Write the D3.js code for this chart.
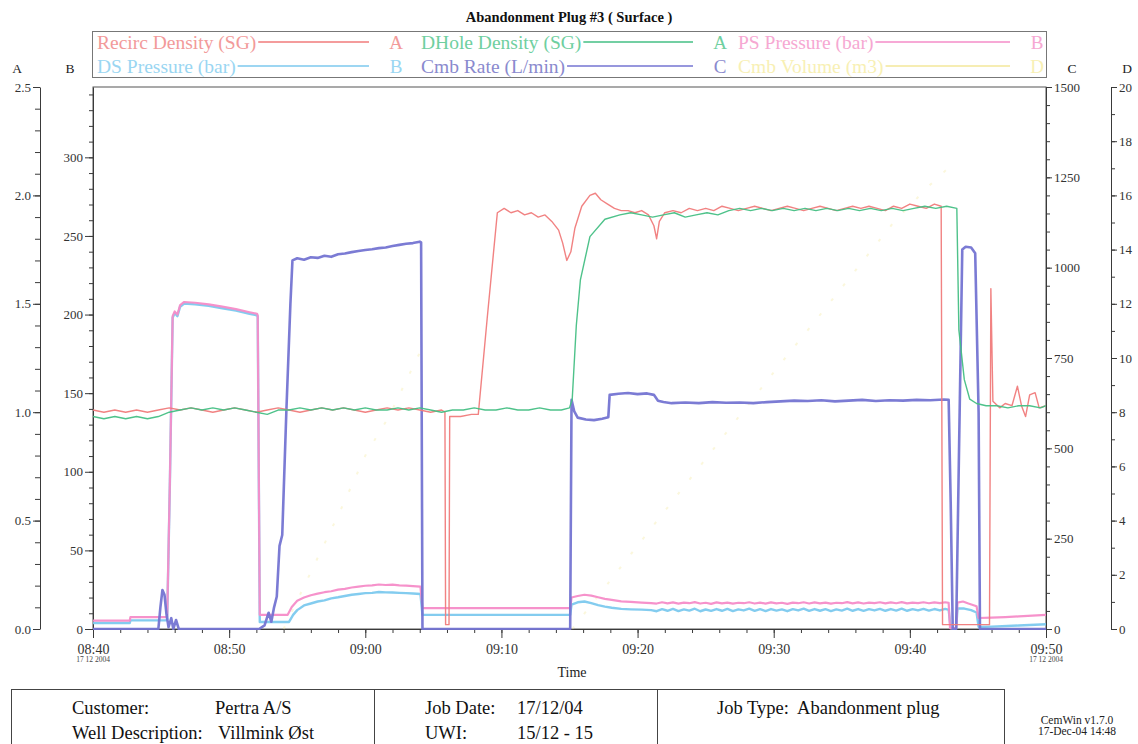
<!DOCTYPE html>
<html>
<head>
<meta charset="utf-8">
<script src="https://cdn.jsdelivr.net/npm/d3@7"></script>
<style>
  html, body { margin: 0; padding: 0; background: #fff; }
  svg { display: block; }
  svg text { font-family: "Liberation Serif", "Times New Roman", serif; }
</style>
</head>
<body>
<svg id="chart" width="1138" height="744"></svg>
<script>
// ---- Logged job data: [minutes after 08:40, value] ----
const recircDensity = [
  [0,1.01],[0.8,1.00],[1.6,1.01],[2.4,1.00],[3.2,1.01],[4.0,1.00],[4.8,1.01],[5.6,1.02],[6.4,1.01],[7.2,1.02],
  [8.0,1.01],[8.8,1.00],[9.6,1.01],[10.4,1.02],[11.2,1.01],[12.0,1.00],[12.8,1.01],[13.6,1.02],[14.4,1.01],
  [15.2,1.00],[16.0,1.01],[16.8,1.02],[17.6,1.01],[18.4,1.02],[19.2,1.01],[20.0,1.00],[20.8,1.01],[21.6,1.02],
  [22.4,1.01],[23.2,1.02],[24.0,1.01],[24.8,1.00],[25.6,1.01],[25.85,1.00],[25.9,0.02],[26.15,0.02],[26.2,0.98],
  [27.0,0.98],[27.8,0.99],[28.3,0.99],[28.95,1.43],[29.7,1.92],[30.2,1.94],[30.7,1.92],[31.2,1.93],[31.7,1.91],
  [32.2,1.92],[32.7,1.90],[33.2,1.91],[33.7,1.88],[34.2,1.84],[34.5,1.78],[34.8,1.70],[35.1,1.74],[35.4,1.85],
  [35.9,1.95],[36.5,2.00],[36.9,2.01],[37.3,1.98],[37.8,1.96],[38.3,1.94],[38.8,1.93],[39.3,1.93],[39.8,1.92],
  [40.3,1.93],[40.8,1.91],[41.2,1.86],[41.4,1.80],[41.6,1.88],[42.0,1.92],[42.6,1.93],[43.2,1.92],[43.8,1.94],
  [44.4,1.93],[45.0,1.94],[45.6,1.93],[46.2,1.95],[46.8,1.94],[47.4,1.93],[48.0,1.94],[48.6,1.95],[49.2,1.94],
  [49.8,1.93],[50.4,1.94],[51.0,1.95],[51.6,1.94],[52.2,1.93],[52.8,1.94],[53.4,1.95],[54.0,1.94],[54.6,1.93],
  [55.2,1.94],[55.8,1.95],[56.4,1.94],[57.0,1.95],[57.6,1.94],[58.2,1.93],[58.8,1.95],[59.4,1.94],[60.0,1.96],
  [60.6,1.95],[61.2,1.94],[61.8,1.96],[62.3,1.95],[62.4,0.02],[65.85,0.02],[65.95,1.57],[66.1,1.05],[66.6,1.02],
  [67.0,1.04],[67.5,1.03],[67.9,1.12],[68.2,1.03],[68.5,0.98],[68.8,1.08],[69.2,1.09],[69.5,1.02],[70,1.03]
];

const dholeDensity = [
  [0,0.98],[0.8,0.97],[1.6,0.98],[2.4,0.97],[3.2,0.98],[4.0,0.97],[4.8,0.98],[5.6,1.00],[6.4,1.01],[7.2,1.02],
  [8.0,1.01],[8.8,1.02],[9.6,1.01],[10.4,1.02],[11.2,1.01],[12.0,1.00],[12.8,0.99],[13.6,1.01],[14.4,1.01],
  [15.2,1.02],[16.0,1.01],[16.8,1.02],[17.6,1.01],[18.4,1.02],[19.2,1.01],[20.0,1.02],[20.8,1.01],[21.6,1.01],
  [22.4,1.02],[23.2,1.01],[24.0,1.02],[24.8,1.01],[25.6,1.00],[26.4,1.01],[27.2,1.01],[28.0,1.02],[28.8,1.01],
  [29.6,1.01],[30.4,1.02],[31.2,1.01],[32.0,1.01],[32.8,1.02],[33.6,1.01],[34.4,1.01],[35.0,1.02],[35.2,1.06],
  [35.5,1.40],[35.8,1.61],[36.5,1.81],[37.6,1.89],[38.7,1.91],[39.5,1.92],[40.3,1.91],[41.1,1.90],[41.9,1.91],
  [42.7,1.92],[43.5,1.90],[44.3,1.91],[45.1,1.92],[45.9,1.91],[46.7,1.93],[47.5,1.94],[48.3,1.93],[49.1,1.94],
  [49.9,1.93],[50.7,1.94],[51.5,1.93],[52.3,1.94],[53.1,1.93],[53.9,1.94],[54.7,1.93],[55.5,1.94],[56.3,1.93],
  [57.1,1.94],[57.9,1.93],[58.7,1.94],[59.5,1.93],[60.3,1.94],[61.1,1.95],[61.9,1.94],[62.7,1.95],[63.45,1.94],
  [63.6,1.38],[64.0,1.15],[64.4,1.06],[64.9,1.04],[65.6,1.03],[66.4,1.03],[67.2,1.02],[68.0,1.03],[68.8,1.03],
  [69.6,1.02],[70,1.03]
];

const psPressure = [
  [0,5.3],[2.7,5.3],[2.75,7.6],[5.35,7.6],[5.45,8],[5.65,95],[5.85,199],[6.0,202],[6.2,200],[6.4,206],[6.7,208],
  [7.5,207.5],[8.5,206.5],[9.5,205],[10.5,203.5],[11.5,201.5],[12.05,200.5],[12.1,199.5],[12.25,9],[14.3,9],
  [14.6,14],[15.0,18],[15.5,20],[16.0,21.5],[16.5,22.5],[17.0,23.4],[17.5,24],[18.0,25],[18.5,25.5],[19.0,26.4],
  [19.5,27],[20.0,27.5],[20.5,27.8],[21.0,28.3],[21.5,28],[22.0,28.2],[22.5,27.8],[23.0,27.6],[23.5,27.3],
  [24.05,27],[24.2,13.3],[35.05,13.3],[35.15,20],[35.6,21],[36.1,21.8],[36.6,21.2],[37.1,20.2],[37.6,19.2],
  [38.1,18.5],[38.8,17.6],[39.5,17.2],[40.3,16.8],[41.0,16.5],[41.4,16.2],[41.8,17.0],[42.2,16.3],[42.6,16.9],
  [43.0,16.1],[43.4,16.8],[43.8,16.4],[44.2,17.1],[44.6,16.2],[45.0,16.7],[45.4,16.0],[45.8,16.9],[46.2,16.3],
  [46.6,16.8],[47.0,16.1],[47.4,16.7],[47.8,16.4],[48.2,17.0],[48.6,16.2],[49.0,16.8],[49.4,16.1],[49.8,16.9],
  [50.2,16.3],[50.6,16.7],[51.0,16.0],[51.4,16.8],[51.8,16.4],[52.2,17.0],[52.6,16.2],[53.0,16.9],[53.4,16.3],
  [53.8,16.8],[54.2,16.1],[54.6,16.7],[55.0,16.4],[55.4,17.1],[55.8,16.3],[56.2,16.9],[56.6,16.2],[57.0,16.8],
  [57.4,16.5],[57.8,17.0],[58.2,16.3],[58.6,16.9],[59.0,16.4],[59.4,17.1],[59.8,16.3],[60.2,16.8],[60.6,16.5],
  [61.0,17.0],[61.4,16.4],[61.8,16.9],[62.2,16.5],[62.6,17.0],[62.85,16.6],[62.95,0.5],[63.4,0.5],[63.5,16.8],
  [63.9,17.5],[64.3,16.2],[64.9,14.5],[65.05,7],[66,7.2],[67,7.6],[68,8.0],[69,8.5],[70,9]
];

const dsPressure = [
  [0,3.8],[2.7,3.8],[2.75,5.5],[5.35,5.5],[5.45,6],[5.65,94],[5.85,198],[6.0,201],[6.2,199],[6.4,205],[6.7,207],
  [7.5,206.5],[8.5,205.5],[9.5,204],[10.5,202.5],[11.5,200.5],[12.05,199.5],[12.1,198.5],[12.25,4.5],[14.4,4.5],
  [14.7,9],[15.0,12],[15.5,15],[16.0,16.2],[16.5,17.5],[17.0,18.2],[17.5,19.5],[18.0,20.2],[18.5,21],[19.0,21.8],
  [19.5,22.3],[20.0,22.8],[20.5,23],[21.0,23.5],[21.5,23.3],[22.0,23.2],[22.5,23],[23.0,22.8],[23.5,22.6],
  [24.05,22.3],[24.2,9],[35.05,9],[35.15,15.5],[35.6,17],[36.1,17.5],[36.6,16.5],[37.1,15.2],[37.6,14.2],
  [38.1,13.5],[38.8,12.8],[39.5,12.5],[40.3,12.3],[41.0,12.0],[41.4,11.3],[41.8,12.6],[42.2,11.6],[42.6,12.8],
  [43.0,11.4],[43.4,12.5],[43.8,11.7],[44.2,12.9],[44.6,11.3],[45.0,12.4],[45.4,11.5],[45.8,12.7],[46.2,11.6],
  [46.6,12.8],[47.0,11.4],[47.4,12.5],[47.8,11.8],[48.2,12.9],[48.6,11.5],[49.0,12.6],[49.4,11.4],[49.8,12.7],
  [50.2,11.7],[50.6,12.5],[51.0,11.3],[51.4,12.6],[51.8,11.8],[52.2,12.9],[52.6,11.5],[53.0,12.7],[53.4,11.6],
  [53.8,12.6],[54.2,11.4],[54.6,12.5],[55.0,11.7],[55.4,12.9],[55.8,11.6],[56.2,12.7],[56.6,11.5],[57.0,12.6],
  [57.4,11.8],[57.8,12.8],[58.2,11.6],[58.6,12.7],[59.0,11.7],[59.4,12.9],[59.8,11.6],[60.2,12.6],[60.6,11.8],
  [61.0,12.8],[61.4,11.7],[61.8,12.7],[62.2,11.8],[62.6,12.8],[62.85,12.2],[63.0,0.5],[63.4,0.5],[63.5,13],
  [64.0,13],[64.5,12],[64.9,10.5],[65.05,1.3],[66,1.5],[68,2.2],[70,3]
];

const cmbRate = [
  [0,0],[4.8,0],[4.95,60],[5.1,108],[5.25,95],[5.4,40],[5.55,5],[5.75,30],[5.9,0],[6.1,25],[6.3,0],[12.2,0],
  [12.6,10],[12.9,45],[13.1,20],[13.3,60],[13.5,90],[13.7,230],[13.9,260],[14.2,600],[14.5,900],[14.65,1020],
  [15.0,1026],[15.5,1022],[16.0,1029],[16.5,1027],[17.0,1033],[17.5,1030],[18.0,1037],[18.5,1039],[19.0,1043],
  [19.5,1046],[20.0,1049],[20.5,1051],[21.0,1054],[21.5,1056],[22.0,1060],[22.5,1063],[23.0,1066],[23.5,1068],
  [24.0,1072],[24.1,1070],[24.2,0],[35.05,0],[35.15,634],[35.35,602],[35.6,585],[36.2,580],[36.8,578],
  [37.4,582],[37.85,586],[37.95,648],[38.6,651],[39.3,653],[40.0,650],[40.7,652],[41.2,648],[41.5,632],
  [41.9,628],[42.5,625],[43.5,627],[44.5,625],[45.5,628],[46.5,626],[47.5,627],[48.5,625],[49.5,628],
  [50.5,630],[51.5,632],[52.5,631],[53.5,633],[54.5,630],[55.5,632],[56.5,634],[57.5,631],[58.5,633],
  [59.5,632],[60.5,634],[61.5,633],[62.5,635],[62.85,634],[63.0,350],[63.15,0],[63.4,0],[63.85,1050],
  [64.1,1058],[64.5,1056],[64.8,1040],[65.05,600],[65.15,0],[70,0]
];

const cmbVolume = [
  [14.0,0],[18.1,4.3],[20.1,6.5],[21.7,7.8],[24.1,10.3],
  [35.2,0],[39.1,2.5],[50.2,9.6],[53.1,11.4],[58.8,15.0],[61.3,16.3],[62.8,17.0]
];

// ---- Series styling / legend layout ----
const seriesNames  = ["Recirc Density (SG)", "DHole Density (SG)", "PS Pressure (bar)",
                      "DS Pressure (bar)", "Cmb Rate (L/min)", "Cmb Volume (m3)"];
const seriesAxis   = ["A", "A", "B", "B", "C", "D"];
const seriesColors = ["#f07b7b", "#45bf84", "#f58cc8", "#7cc9ee", "#7474d2", "#f3e79a"];
const legendText   = ["#f29a9a", "#6fcfa0", "#f6a8d2", "#9ad6f2", "#8a8ace", "#f8f0b4"];
const seriesData   = [recircDensity, dholeDensity, psPressure, dsPressure, cmbRate, cmbVolume];
const seriesWidth  = [1.4, 1.4, 2.2, 2.4, 2.6, 1.2];

// ---- Axis tick values ----
const ticksA = [0, 0.5, 1.0, 1.5, 2.0, 2.5];
const ticksB = [0, 50, 100, 150, 200, 250, 300];
const ticksC = [0, 250, 500, 750, 1000, 1250, 1500];
const ticksD = [0, 2, 4, 6, 8, 10, 12, 14, 16, 18, 20];

const footerLeft  = [["Customer:", "Pertra A/S"], ["Well Description:", "Villmink Øst"]];
const footerMid   = [["Job Date:", "17/12/04"], ["UWI:", "15/12 - 15"]];
const footerRight = "Job Type:  Abandonment plug";
const stamp = ["CemWin v1.7.0", "17-Dec-04 14:48"];

const SERIF = "'Liberation Serif', 'Times New Roman', serif";

// ---- Scales ----
const t0 = new Date(2004, 11, 17, 8, 40);
const t1 = new Date(2004, 11, 17, 9, 50);
const toDate = m => new Date(t0.getTime() + m * 60000);

const L = 93, R = 1046, T = 87, B = 629;
const x  = d3.scaleTime().domain([t0, t1]).range([L, R]);
const yA = d3.scaleLinear().domain([0, 2.5]).range([B, T]);
const yB = d3.scaleLinear().domain([0, 344.74]).range([B, T]);
const yC = d3.scaleLinear().domain([0, 1500]).range([B, T]);
const yD = d3.scaleLinear().domain([0, 20]).range([B, T]);
const yScales = { A: yA, B: yB, C: yC, D: yD };

const svg = d3.select("#chart");
const axisColor = "#3a3a3a";

// Title
svg.append("text").attr("x", 569).attr("y", 22).attr("text-anchor", "middle")
  .attr("font-family", SERIF).attr("font-size", 14.5).attr("font-weight", "bold").attr("fill", "#111")
  .text("Abandonment Plug #3 ( Surface )");

// Legend box
svg.append("rect").attr("x", 92.5).attr("y", 31.5).attr("width", 954).attr("height", 46)
  .attr("fill", "none").attr("stroke", "#777").attr("stroke-width", 1);

const legendCols = [97, 421, 738];
const legendRowsY = [42, 66];
seriesNames.forEach((name, i) => {
  const col = i % 3, row = Math.floor(i / 3);
  const gx = legendCols[col], gy = legendRowsY[row];
  const g = svg.append("g");
  const t = g.append("text").attr("x", gx).attr("y", gy).attr("dy", "0.35em")
    .attr("font-family", SERIF).attr("font-size", 19.5).attr("fill", legendText[i]).text(name);
  const tw = t.node().getComputedTextLength();
  g.append("line").attr("x1", gx + tw + 2).attr("x2", gx + 272)
    .attr("y1", gy).attr("y2", gy).attr("stroke", seriesColors[i]).attr("stroke-width", 1.4);
  g.append("text").attr("x", gx + 299).attr("y", gy).attr("dy", "0.35em")
    .attr("text-anchor", "middle").attr("font-family", SERIF).attr("font-size", 19)
    .attr("fill", legendText[i]).text(seriesAxis[i]);
});

// Plot frame
svg.append("rect").attr("x", L).attr("y", T).attr("width", R - L).attr("height", B - T)
  .attr("fill", "none").attr("stroke", "#555").attr("stroke-width", 1);

// Clip for series
svg.append("defs").append("clipPath").attr("id", "plotClip")
  .append("rect").attr("x", L).attr("y", T - 1).attr("width", R - L).attr("height", B - T + 2);

// Axes helpers
function styleAxis(g, fontSize) {
  g.attr("font-family", SERIF);
  g.selectAll("path.domain").attr("stroke", axisColor);
  g.selectAll(".tick line").attr("stroke", axisColor);
  g.selectAll(".tick text").attr("fill", "#333").attr("font-size", fontSize).attr("font-family", SERIF);
}
function minorTicks(lo, hi, step) {
  const out = [];
  for (let v = lo; v <= hi + 1e-9; v += step) out.push(+v.toFixed(4));
  return out;
}
function minorAxis(axis, tx, ty) {
  svg.append("g").attr("transform", `translate(${tx},${ty})`).call(axis)
    .call(g => { g.select("path.domain").remove(); g.selectAll("line").attr("stroke", axisColor); });
}

// Axis A
const gA = svg.append("g").attr("transform", "translate(40,0)");
gA.call(d3.axisLeft(yA).tickValues(ticksA).tickFormat(d3.format(".1f")).tickSize(7).tickSizeOuter(0).tickPadding(2));
styleAxis(gA, 13);
minorAxis(d3.axisLeft(yA).tickValues(minorTicks(0, 2.5, 0.1)).tickFormat("").tickSize(5).tickSizeOuter(0), 40, 0);

// Axis B
const gB = svg.append("g").attr("transform", `translate(${L},0)`);
gB.call(d3.axisLeft(yB).tickValues(ticksB).tickFormat(d3.format("d")).tickSize(8).tickSizeOuter(0).tickPadding(2));
styleAxis(gB, 13);
minorAxis(d3.axisLeft(yB).tickValues(minorTicks(0, 340, 10)).tickFormat("").tickSize(4).tickSizeOuter(0), L, 0);

// Axis C
const gC = svg.append("g").attr("transform", `translate(${R},0)`);
gC.call(d3.axisRight(yC).tickValues(ticksC).tickFormat(d3.format("d")).tickSize(6).tickSizeOuter(0).tickPadding(2));
styleAxis(gC, 13);
minorAxis(d3.axisRight(yC).tickValues(minorTicks(0, 1500, 50)).tickFormat("").tickSize(4).tickSizeOuter(0), R, 0);

// Axis D
const gD = svg.append("g").attr("transform", "translate(1111,0)");
gD.call(d3.axisRight(yD).tickValues(ticksD).tickFormat(d3.format("d")).tickSize(6).tickSizeOuter(0).tickPadding(2));
styleAxis(gD, 13);
minorAxis(d3.axisRight(yD).tickValues(minorTicks(0, 20, 1)).tickFormat("").tickSize(4).tickSizeOuter(0), 1111, 0);

// Axis letters
[["A", 17], ["B", 70], ["C", 1072], ["D", 1127]].forEach(([s, ax]) => {
  svg.append("text").attr("x", ax).attr("y", 68).attr("dy", "0.35em").attr("text-anchor", "middle")
    .attr("font-family", SERIF).attr("font-size", 13.5).attr("fill", "#222").text(s);
});

// Time axis
const gX = svg.append("g").attr("transform", `translate(0,${B})`);
gX.call(d3.axisBottom(x).ticks(d3.timeMinute.every(10)).tickFormat(d3.timeFormat("%H:%M"))
  .tickSize(9).tickSizeOuter(0).tickPadding(6));
styleAxis(gX, 14);
minorAxis(d3.axisBottom(x).ticks(d3.timeMinute.every(2)).tickFormat("").tickSize(4).tickSizeOuter(0), 0, B);

[t0, t1].forEach(d => {
  svg.append("text").attr("x", x(d)).attr("y", 662).attr("text-anchor", "middle")
    .attr("font-family", SERIF).attr("font-size", 7.5).attr("fill", "#444").text(d3.timeFormat("%d %m %Y")(d));
});
svg.append("text").attr("x", 572).attr("y", 677).attr("text-anchor", "middle")
  .attr("font-family", SERIF).attr("font-size", 14).attr("fill", "#222").text("Time");

// Series
const plot = svg.append("g").attr("clip-path", "url(#plotClip)");
const drawOrder = [5, 3, 2, 4, 0, 1];
drawOrder.forEach(i => {
  const ys = yScales[seriesAxis[i]];
  const line = d3.line().x(d => x(toDate(d[0]))).y(d => ys(d[1]));
  if (i === 5) {
    // volume is logged in two pumping stages
    const parts = [cmbVolume.slice(0, 5), cmbVolume.slice(5)];
    parts.forEach(p => plot.append("path").attr("d", line(p)).attr("fill", "none")
      .attr("stroke", seriesColors[i]).attr("stroke-width", 2).attr("opacity", 0.35)
      .attr("stroke-dasharray", "3,16"));
  } else {
    plot.append("path").attr("d", line(seriesData[i])).attr("fill", "none")
      .attr("stroke", seriesColors[i]).attr("stroke-width", seriesWidth[i])
      .attr("stroke-linejoin", "round").attr("opacity", 0.95);
  }
});

// Footer table
const foot = svg.append("g").attr("font-family", SERIF).attr("font-size", 18.5).attr("fill", "#111");
foot.append("rect").attr("x", 11.5).attr("y", 689.5).attr("width", 993).attr("height", 70)
  .attr("fill", "none").attr("stroke", "#444");
[374.5, 657.5].forEach(vx => foot.append("line").attr("x1", vx).attr("x2", vx)
  .attr("y1", 689.5).attr("y2", 744).attr("stroke", "#444"));
const rowY = [708, 733];
footerLeft.forEach((r, i) => {
  foot.append("text").attr("x", 72).attr("y", rowY[i]).attr("dy", "0.35em").text(r[0]);
  foot.append("text").attr("x", i === 0 ? 215 : 218).attr("y", rowY[i]).attr("dy", "0.35em").text(r[1]);
});
footerMid.forEach((r, i) => {
  foot.append("text").attr("x", 425).attr("y", rowY[i]).attr("dy", "0.35em").text(r[0]);
  foot.append("text").attr("x", 517).attr("y", rowY[i]).attr("dy", "0.35em").text(r[1]);
});
foot.append("text").attr("x", 717).attr("y", rowY[0]).attr("dy", "0.35em")
  .style("white-space", "pre").text(footerRight);
stamp.forEach((s, i) => {
  svg.append("text").attr("x", 1077).attr("y", 720 + i * 11).attr("dy", "0.35em")
    .attr("text-anchor", "middle").attr("font-family", SERIF).attr("font-size", 11.5)
    .attr("fill", "#222").text(s);
});
</script>
</body>
</html>
